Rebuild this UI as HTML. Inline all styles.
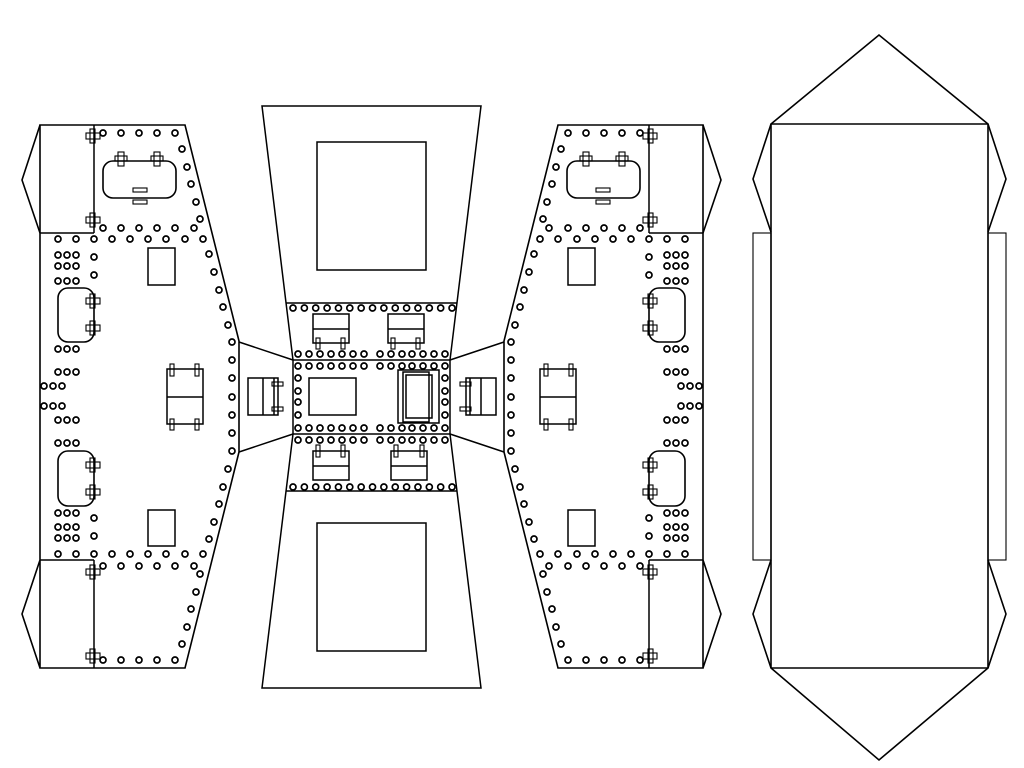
<!DOCTYPE html>
<html><head><meta charset="utf-8"><style>html,body{margin:0;background:#fff}svg{display:block}</style></head>
<body>
<svg id="s" width="1024" height="768" viewBox="0 0 1024 768" xmlns="http://www.w3.org/2000/svg" fill="none" stroke="#000" stroke-width="1.5">
<g id="L"></g>
<use href="#L" transform="translate(743,0) scale(-1,1)"/>
<g id="C"></g>
<g stroke-width="1.6">
<polygon points="771,124 879,35 988,124 988,668 879,760 771,668"/>
<line x1="771" y1="124" x2="988" y2="124"/><line x1="771" y1="668" x2="988" y2="668"/>
<polyline points="771,124 753,179 771,232"/><polyline points="771,560 753,614 771,668"/>
<polyline points="988,124 1006,179 988,232"/><polyline points="988,560 1006,614 988,668"/>
<rect x="753" y="233" width="18" height="327" stroke-width="1.1"/><rect x="988" y="233" width="18" height="327" stroke-width="1.1"/>
</g>
</svg>
<script>
const NS="http://www.w3.org/2000/svg";
function el(p,t,a){const e=document.createElementNS(NS,t);for(const k in a)e.setAttribute(k,a[k]);p.appendChild(e);return e;}
const L=document.getElementById('L'),C=document.getElementById('C');
function c(g,x,y){el(g,'circle',{cx:x,cy:y,r:3,'stroke-width':1.7});}
function r(g,x,y,w,h,extra){el(g,'rect',Object.assign({x,y,width:w,height:h},extra||{}));}
function ln(g,a,b,c2,d){el(g,'line',{x1:a,y1:b,x2:c2,y2:d});}
el(L,'polygon',{points:"40,125 185,125 239,341 239,452 185,668 40,668 40,560 22,614 40,668 40,125",'stroke-width':1.6});
el(L,'polyline',{points:"40,125 22,180 40,233",'stroke-width':1.6});
ln(L,40,233,94,233);ln(L,40,560,94,560);ln(L,94,125,94,233);ln(L,94,560,94,668);
el(L,'polyline',{points:"239,342 293,360"});el(L,'polyline',{points:"239,452 293,434"});
function hinge(x,y){r(L,x-8,y-3,14,6,{'stroke-width':1.1});r(L,x-4,y-7,5,14,{'stroke-width':1.1});}
[136,220,572,656].forEach(y=>hinge(94,y));
[301,328,465,492].forEach(y=>hinge(94,y));
[103,121,139,157,175].forEach(x=>{c(L,x,133);c(L,x,660);});
[103,121,139,157,175,194].forEach(x=>{c(L,x,228);c(L,x,566);});
[58,76,94,112,130,148,166,185,203].forEach(x=>{c(L,x,239);c(L,x,554);});
[[182,149],[187,167],[191,184],[196,202],[200,219],[209,254],[214,272],[219,290],[223,307],[228,325],[232,342],[232,360],[232,378],[232,397],[232,415],[232,433],[232,451],[228,469],[223,487],[219,504],[214,522],[209,539],[200,574],[196,592],[191,609],[187,627],[182,644]].forEach(p=>c(L,p[0],p[1]));
[[58,255],[58,266],[58,281],[58,349],[58,372],[44,386],[44,406],[58,420],[58,443],[58,513],[58,527],[58,538]].forEach(p=>{for(let i=0;i<3;i++)c(L,p[0]+i*9,p[1]);});
[257,275,518,536].forEach(y=>c(L,94,y));
r(L,103,161,73,37,{rx:10,'stroke-width':1.6});
[121,157].forEach(x=>{r(L,x-3,152,6,14,{'stroke-width':1.1});r(L,x-6,156,12,5,{'stroke-width':1.1});});
r(L,133,188,14,4,{'stroke-width':1.1});r(L,133,200,14,4,{'stroke-width':1.1});
r(L,58,288,36,54,{rx:10,'stroke-width':1.6});r(L,58,451,36,55,{rx:10,'stroke-width':1.6});
r(L,148,248,27,37);r(L,148,510,27,36);
r(L,167,369,36,55);ln(L,167,397,203,397);
[172,197].forEach(x=>{r(L,x-2,364,4,12,{'stroke-width':1.1});r(L,x-2,419,4,11,{'stroke-width':1.1});});
el(C,'polygon',{points:"262,106 481,106 450,360 450,434 481,688 262,688 293,434 293,360",'stroke-width':1.5});
ln(C,286,303,457,303);ln(C,293,360,450,360);ln(C,293,434,450,434);ln(C,286,491,457,491);
r(C,317,142,109,128);r(C,317,523,109,128);
for(let i=0;i<15;i++){const x=293+i*11.36;c(C,x,308);c(C,x,487);}
const gx=[298,309,320,331,342,353,364,380,391,402,412,423,434,445];
gx.forEach(x=>{[354,366,428,440].forEach(y=>c(C,x,y));});
[378,391,402,415].forEach(y=>{c(C,298,y);c(C,445,y);});
function box(x,y,w,h,mid,cy1,cy2,cx){r(C,x,y,w,h);ln(C,x,mid,x+w,mid);cx.forEach(xx=>r(C,xx-2,cy1,4,cy2-cy1,{'stroke-width':1.1}));}
box(313,314,36,29,329,338,349,[318,343]);box(388,314,36,29,329,338,349,[393,418]);
box(313,451,36,29,466,445,457,[318,343]);box(391,451,36,29,466,445,457,[396,422]);
r(C,309,378,47,37);
r(C,398,370,41,53);r(C,403,372,26,50);r(C,406,375,26,43);
r(C,248,378,30,37);ln(C,263,378,263,415);ln(C,274,378,274,415);
r(C,272,382,11,4,{'stroke-width':1.1});r(C,272,407,11,4,{'stroke-width':1.1});
r(C,466,378,30,37);ln(C,481,378,481,415);ln(C,470,378,470,415);
r(C,460,382,11,4,{'stroke-width':1.1});r(C,460,407,11,4,{'stroke-width':1.1});
</script>
</body></html>
